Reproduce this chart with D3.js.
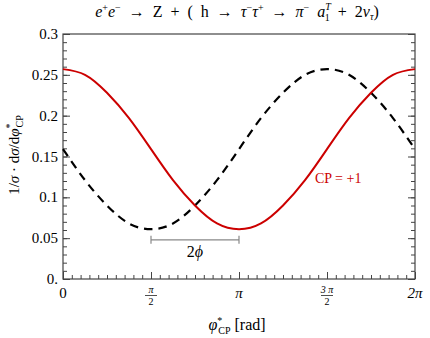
<!doctype html>
<html lang="en">
<head>
  <meta charset="UTF-8">
  <title>CP</title>
  <script src="https://cdn.jsdelivr.net/npm/d3@7"></script>
</head>
<body style="margin:0">
<div id="container"></div>
<script type="text/javascript">
// sample points (radians)
var phi = [0, 0.393, 0.785, 1.178, 1.571, 1.963, 2.356, 2.749, 3.142,
           3.534, 3.927, 4.320, 4.712, 5.105, 5.498, 5.890, 6.283];
var cpEven = [0.257, 0.250, 0.228, 0.197, 0.159, 0.121, 0.090, 0.068, 0.061,
              0.068, 0.090, 0.121, 0.159, 0.197, 0.228, 0.250, 0.257];
var cpMixed = [0.159, 0.121, 0.090, 0.068, 0.061, 0.068, 0.090, 0.121, 0.159,
               0.197, 0.228, 0.250, 0.257, 0.250, 0.228, 0.197, 0.159];

var yTicks = [0, 0.05, 0.1, 0.15, 0.2, 0.25, 0.3];
var yTickLabels = ['0.', '0.05', '0.1', '0.15', '0.2', '0.25', '0.3'];
var xTicks = [0, Math.PI / 2, Math.PI, 3 * Math.PI / 2, 2 * Math.PI];
// [numerator, denominator] or plain label
var xTickLabels = ['0', ['π', '2'], 'π', ['3 π', '2'], '2π'];
var bracket = [Math.PI / 2, Math.PI];  // 2phi span
var bracketY = 0.048;

var width = 430, height = 338;
var margin = {top: 34, right: 15, bottom: 59, left: 63};
var serif = "'Liberation Serif'";

var svg = d3.select('#container').append('svg')
  .attr('width', width)
  .attr('height', height);

// every text goes through here so the font is set first
function T(parent, tag) {
  return parent.append(tag || 'text').style('font-family', serif);
}

var x = d3.scaleLinear().domain([0, 2 * Math.PI]).range([margin.left, width - margin.right]);
var y = d3.scaleLinear().domain([0, 0.3]).range([height - margin.bottom, margin.top]);

// minor ticks
var xMinor = d3.range(0, 41).map(function(i) { return i * Math.PI / 20; });
var yMinor = d3.range(0, 31).map(function(i) { return i * 0.01; });

var frame = '#444';
var axes = svg.append('g');

axes.append('g')
  .attr('transform', 'translate(0,' + y(0) + ')')
  .call(d3.axisBottom(x).tickValues(xMinor).tickSize(-4).tickFormat(''))
  .call(function(g) { g.select('.domain').remove(); });
axes.append('g')
  .attr('transform', 'translate(0,' + y(0) + ')')
  .call(d3.axisBottom(x).tickValues(xTicks).tickSize(-7).tickFormat(''))
  .call(function(g) { g.select('.domain').remove(); });

[d3.axisLeft, d3.axisRight].forEach(function(ax, side) {
  var px = side === 0 ? x.range()[0] : x.range()[1];
  axes.append('g')
    .attr('transform', 'translate(' + px + ',0)')
    .call(ax(y).tickValues(yMinor).tickSize(-4).tickFormat(''))
    .call(function(g) { g.select('.domain').remove(); });
  axes.append('g')
    .attr('transform', 'translate(' + px + ',0)')
    .call(ax(y).tickValues(yTicks).tickSize(-7).tickFormat(''))
    .call(function(g) { g.select('.domain').remove(); });
});
axes.selectAll('line').attr('stroke', frame).attr('stroke-width', 1);
axes.selectAll('text').remove();

axes.append('rect')
  .attr('x', x.range()[0]).attr('y', y(0.3))
  .attr('width', x.range()[1] - x.range()[0])
  .attr('height', y(0) - y(0.3))
  .attr('fill', 'none')
  .attr('stroke', frame)
  .attr('stroke-width', 1.2);

// y tick labels
yTicks.forEach(function(d, i) {
  T(svg)
    .style('font-size', '15px')
    .attr('x', x.range()[0] - 5)
    .attr('y', y(d) + 5)
    .attr('text-anchor', 'end')
    .text(yTickLabels[i]);
});

// x tick labels
xTicks.forEach(function(t, i) {
  var lab = xTickLabels[i];
  var cx = x(t);
  if (typeof lab === 'string') {
    T(svg)
      .style('font-size', '15px')
      .style('font-style', lab === '0' ? 'normal' : 'italic')
      .attr('x', cx).attr('y', y(0) + 19)
      .attr('text-anchor', 'middle')
      .text(lab);
  } else {
    T(svg)
      .style('font-size', '10px')
      .style('font-style', 'italic')
      .attr('x', cx).attr('y', y(0) + 14)
      .attr('text-anchor', 'middle')
      .text(lab[0]);
    svg.append('line')
      .attr('x1', cx - 6).attr('x2', cx + 6)
      .attr('y1', y(0) + 16.5).attr('y2', y(0) + 16.5)
      .attr('stroke', '#222').attr('stroke-width', 0.8);
    T(svg)
      .style('font-size', '10px')
      .attr('x', cx).attr('y', y(0) + 26)
      .attr('text-anchor', 'middle')
      .text(lab[1]);
  }
});

// curves
var line = d3.line()
  .x(function(d) { return x(d[0]); })
  .y(function(d) { return y(d[1]); })
  .curve(d3.curveNatural);

svg.append('path')
  .datum(phi.map(function(p, i) { return [p, cpMixed[i]]; }))
  .attr('d', line)
  .attr('fill', 'none')
  .attr('stroke', '#000')
  .attr('stroke-width', 2.2)
  .attr('stroke-dasharray', '8.5,6');

svg.append('path')
  .datum(phi.map(function(p, i) { return [p, cpEven[i]]; }))
  .attr('d', line)
  .attr('fill', 'none')
  .attr('stroke', '#cc0000')
  .attr('stroke-width', 2);

// 2phi bracket
var gb = svg.append('g').attr('stroke', '#888').attr('stroke-width', 1.2);
gb.append('line')
  .attr('x1', x(bracket[0])).attr('x2', x(bracket[1]))
  .attr('y1', y(bracketY)).attr('y2', y(bracketY));
bracket.forEach(function(b) {
  gb.append('line')
    .attr('x1', x(b)).attr('x2', x(b))
    .attr('y1', y(bracketY) - 4).attr('y2', y(bracketY) + 4);
});
var lab2 = T(svg)
  .style('font-size', '16px')
  .attr('x', x((bracket[0] + bracket[1]) / 2))
  .attr('y', y(bracketY) + 17)
  .attr('text-anchor', 'middle');
T(lab2, 'tspan').text('2');
T(lab2, 'tspan').style('font-style', 'italic').text('ϕ');

T(svg)
  .style('font-size', '14px')
  .attr('x', 315).attr('y', 183)
  .attr('fill', '#cc0000')
  .text('CP = +1');

// rich text helper: segments [text, italic, shift, size, dx]
function rich(sel, segs, base) {
  var prev = 0;
  segs.forEach(function(s) {
    var sh = s[2] || 0;
    var ts = T(sel, 'tspan')
      .style('font-size', (s[3] || base) + 'px')
      .style('font-style', s[1] ? 'italic' : 'normal')
      .attr('dy', sh - prev)
      .text(s[0]);
    if (s[4]) ts.attr('dx', s[4]);
    prev = sh;
  });
}

var title = T(svg)
  .style('white-space', 'pre')
  .attr('x', 237).attr('y', 17)
  .attr('text-anchor', 'middle');
rich(title, [
  ['e', 1], ['+', 0, -6, 10], ['e', 1], ['−', 0, -6, 10],
  ['  →  Z  +  (  h  →  ', 0], ['τ', 1], ['−', 0, -6, 10], ['τ', 1], ['+', 0, -6, 10],
  ['  →  ', 0], ['π', 1], ['−', 0, -6, 10], ['  a', 1], ['T', 1, -7, 10],
  ['1', 0, 4, 10, -6], ['  +  2', 0], ['ν', 1], ['τ', 1, 3, 10], [')', 0]
], 16);

var xl = T(svg)
  .attr('x', 237).attr('y', 330)
  .attr('text-anchor', 'middle');
rich(xl, [
  ['φ', 1], ['*', 0, -6, 10], ['CP', 0, 4, 10, -4], [' [rad]', 0]
], 16);

var yl = T(svg)
  .attr('transform', 'translate(19,155) rotate(-90)')
  .attr('text-anchor', 'middle');
rich(yl, [
  ['1/', 0], ['σ', 1], [' · d', 0], ['σ', 1], ['/d', 0], ['φ', 1],
  ['*', 0, -6, 10], ['CP', 0, 4, 10, -4]
], 15);
</script>
</body>
</html>
